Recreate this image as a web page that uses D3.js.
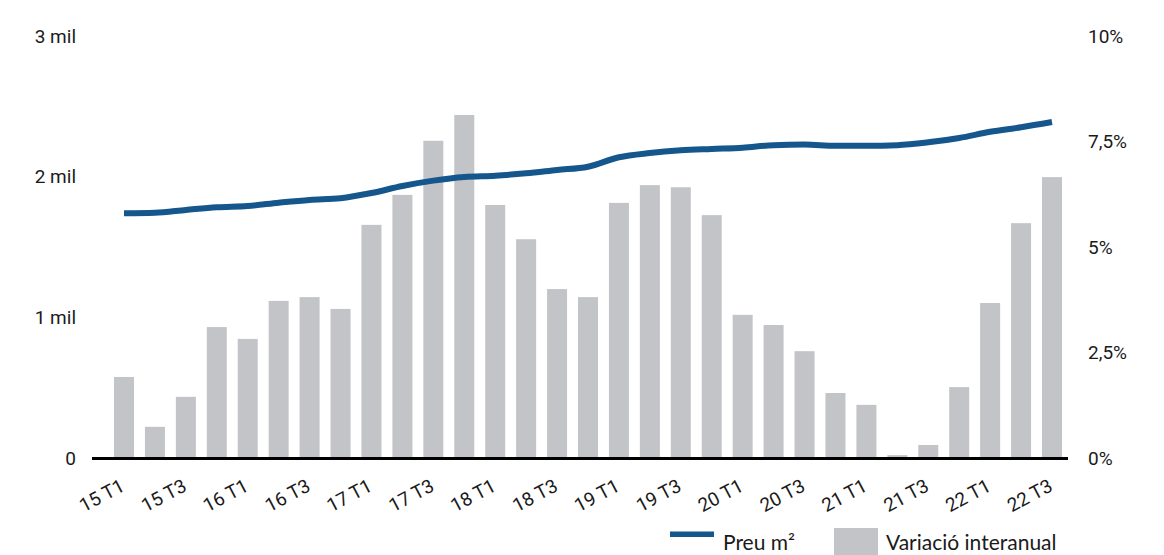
<!DOCTYPE html>
<html>
<head>
<meta charset="utf-8">
<script src="https://cdn.jsdelivr.net/npm/d3@7"></script>
<style>
  html, body { margin: 0; padding: 0; background: #fff; }
  svg { display: block; }
  .axis text { font-family: Roboto, "Noto Sans", sans-serif; font-size: 19px; fill: #1a1a1a; }
  .legend text { font-family: Lato, "Noto Sans", sans-serif; font-size: 21px; fill: #1a1a1a; }
</style>
</head>
<body>
<svg id="chart" width="1164" height="555"></svg>
<script>
// Quarters from 2015 T1 to 2022 T3
const quarters = [
  "15 T1","15 T2","15 T3","15 T4",
  "16 T1","16 T2","16 T3","16 T4",
  "17 T1","17 T2","17 T3","17 T4",
  "18 T1","18 T2","18 T3","18 T4",
  "19 T1","19 T2","19 T3","19 T4",
  "20 T1","20 T2","20 T3","20 T4",
  "21 T1","21 T2","21 T3","21 T4",
  "22 T1","22 T2","22 T3"
];

// Price per m² (left axis, €)
const preuM2 = [
  1741, 1745, 1765, 1784, 1793, 1816, 1836, 1848,
  1885, 1935, 1973, 1999, 2008, 2025, 2049, 2072,
  2139, 2169, 2188, 2198, 2207, 2225, 2229, 2221,
  2221, 2225, 2245, 2276, 2320, 2352, 2389
];

// Year-on-year change (right axis, %)
const variacio = [
  1.93, 0.75, 1.46, 3.11, 2.83, 3.73, 3.82, 3.54,
  5.53, 6.24, 7.52, 8.13, 6.00, 5.19, 4.01, 3.82,
  6.05, 6.47, 6.42, 5.76, 3.40, 3.16, 2.54, 1.55,
  1.27, 0.08, 0.32, 1.69, 3.68, 5.57, 6.66
];

const leftTicks = [0, 1000, 2000, 3000];
const rightTicks = [0, 2.5, 5, 7.5, 10];
const xTickLabels = quarters.filter((q, i) => i % 2 === 0);

const svg = d3.select("#chart");

const x = d3.scalePoint().domain(quarters).range([124, 1052]);
const yLeft = d3.scaleLinear().domain([0, 3000]).range([458.5, 36]);
const yRight = d3.scaleLinear().domain([0, 10]).range([458.5, 36]);

const barColor = "#c3c4c8";
const lineColor = "#15568c";
const barWidth = 20;

// Bars: year-on-year change
svg.append("g")
  .selectAll("rect")
  .data(quarters.map((q, i) => ({ q, v: variacio[i] })))
  .join("rect")
  .attr("x", d => x(d.q) - barWidth / 2)
  .attr("width", barWidth)
  .attr("y", d => yRight(d.v))
  .attr("height", d => yRight(0) - yRight(d.v))
  .attr("fill", barColor);

// Line: price per m²
const line = d3.line()
  .x((d, i) => x(quarters[i]))
  .y(d => yLeft(d))
  .curve(d3.curveMonotoneX);

svg.append("path")
  .datum(preuM2)
  .attr("d", line)
  .attr("fill", "none")
  .attr("stroke", lineColor)
  .attr("stroke-width", 6);

// Baseline
svg.append("line")
  .attr("x1", 92).attr("x2", 1068)
  .attr("y1", yLeft(0)).attr("y2", yLeft(0))
  .attr("stroke", "#000")
  .attr("stroke-width", 3);

// Left axis
const axL = svg.append("g")
  .attr("class", "axis")
  .attr("transform", "translate(76,0)")
  .call(d3.axisLeft(yLeft)
    .tickValues(leftTicks)
    .tickSize(0)
    .tickPadding(0)
    .tickFormat(d => d === 0 ? "0" : (d / 1000) + " mil"));
axL.select(".domain").remove();

// Right axis
const axR = svg.append("g")
  .attr("class", "axis")
  .attr("transform", "translate(1088,0)")
  .call(d3.axisRight(yRight)
    .tickValues(rightTicks)
    .tickSize(0)
    .tickPadding(0)
    .tickFormat(d => String(d).replace(".", ",") + "%"));
axR.select(".domain").remove();

// Bottom axis with rotated labels
const axB = svg.append("g")
  .attr("class", "axis")
  .call(d3.axisBottom(x).tickValues(xTickLabels).tickSize(0));
axB.select(".domain").remove();
axB.selectAll(".tick").attr("transform", d => `translate(${x(d) + 2},490)`);
axB.selectAll(".tick text")
  .attr("y", 0)
  .attr("dy", 0)
  .attr("text-anchor", "end")
  .attr("transform", "rotate(-28)");

// Legend
const legend = svg.append("g").attr("class", "legend");
legend.append("rect")
  .attr("x", 670).attr("y", 531.5).attr("width", 44).attr("height", 5.5)
  .attr("fill", lineColor);
legend.append("text").attr("x", 723).attr("y", 550).text("Preu m²");
legend.append("rect")
  .attr("x", 834).attr("y", 528).attr("width", 44).attr("height", 30)
  .attr("fill", barColor);
legend.append("text").attr("x", 886).attr("y", 550).text("Variació interanual");
</script>
</body>
</html>
